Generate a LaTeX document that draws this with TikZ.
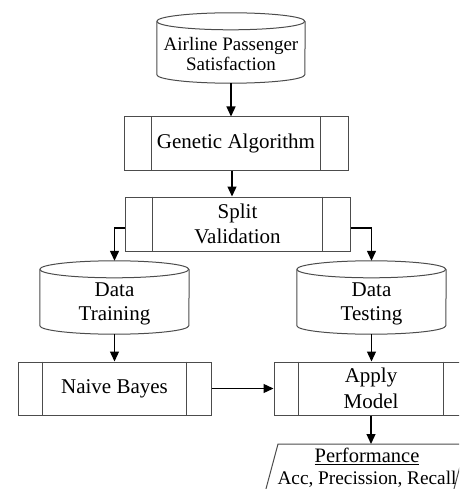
\documentclass[tikz,border=0pt]{standalone}
\usepackage{fontspec}
\setmainfont{Liberation Serif}
\usetikzlibrary{arrows.meta,calc}
\tikzset{
  shp/.style={draw=black!70, line width=1pt},
  box/.style={shp, rectangle, minimum height=53pt, inner sep=0pt, align=center, font=\fontsize{21}{25.5}\selectfont},
  blank/.style={rectangle, inner sep=0pt, draw=none},
  txt/.style={align=center, inner sep=0pt, font=\fontsize{21}{24.5}\selectfont},
  arr/.style={draw=black, line width=1.3pt, -{Triangle[width=9pt,length=10pt]}},
}
\newcommand\innerlines[2]{%
  \draw[shp] ([xshift=#2]#1.north west) -- ([xshift=#2]#1.south west);
  \draw[shp] ([xshift=-#2]#1.north east) -- ([xshift=-#2]#1.south east);}
\newcommand\cyldraw[3]{% node, x radius, y radius
  \draw[shp] ([yshift=-#3]#1.north west) arc[start angle=180, delta angle=360, x radius=#2, y radius=#3];
  \draw[shp] ([yshift=-#3]#1.north west) -- ([yshift=#3]#1.south west)
     arc[start angle=180, end angle=360, x radius=#2, y radius=#3] -- ([yshift=-#3]#1.north east);}
\begin{document}
\begin{tikzpicture}[x=1pt,y=1pt]
\useasboundingbox (0,0) rectangle (459,-489);
\clip (0,0) rectangle (459,-489);
% top cylinder
\node[blank, minimum width=148pt, minimum height=70pt] (aps) at (231,-48) {};
\cyldraw{aps}{74pt}{8.5pt}
\node[txt, font=\fontsize{19}{19.5}\selectfont] (apsT) at (231,-54) {Airline Passenger\\Satisfaction};
% genetic algorithm
\node[box, minimum width=224pt] (ga) at (236,-143.5) {Genetic Algorithm};
\innerlines{ga}{28pt}
% split validation
\node[box, minimum width=225pt, minimum height=54pt] (sv) at (237.5,-224) {Split\\Validation};
\innerlines{sv}{28pt}
% data training / testing cylinders
\node[blank, minimum width=149pt, minimum height=73pt] (dtr) at (114.5,-297.5) {};
\cyldraw{dtr}{74.5pt}{8.5pt}
\node[txt] (dtrT) at (114.5,-304) {Data\\Training};
\node[blank, minimum width=149pt, minimum height=73pt] (dts) at (371.5,-297.5) {};
\cyldraw{dts}{74.5pt}{8.5pt}
\node[txt] (dtsT) at (371.5,-304) {Data\\Testing};
% naive bayes / apply model
\node[box, minimum width=193pt] (nb) at (114.5,-388.5) {Naive Bayes};
\innerlines{nb}{25pt}
\node[box, minimum width=194pt] (am) at (371,-388.5) {Apply\\Model};
\innerlines{am}{25pt}
% performance parallelogram
\coordinate (perfTop) at (371,-444);
\draw[shp] (263,-500) -- (278,-444) -- (466,-444) -- (451,-500);
\node[txt, font=\fontsize{20.5}{21.5}\selectfont] (perf) at (367,-468) {\underline{Performance}\\{\fontsize{19.3}{21.5}\selectfont Acc, Precission, Recall}};
% connectors
\draw[arr] (aps.south) -- (aps.south |- ga.north);
\draw[arr] ([xshift=-4pt]ga.south) -- ([xshift=-4pt]ga.south |- sv.north);
\draw[arr] ([yshift=-4pt]sv.west) -| (dtr.north);
\draw[arr] ([yshift=-4pt]sv.east) -| (dts.north);
\draw[arr] (dtr.south) -- (dtr.south |- nb.north);
\draw[arr] (dts.south) -- (dts.south |- am.north);
\draw[arr] (nb.east) -- (am.west);
\draw[arr] (am.south) -- (perfTop);
\end{tikzpicture}
\end{document}
